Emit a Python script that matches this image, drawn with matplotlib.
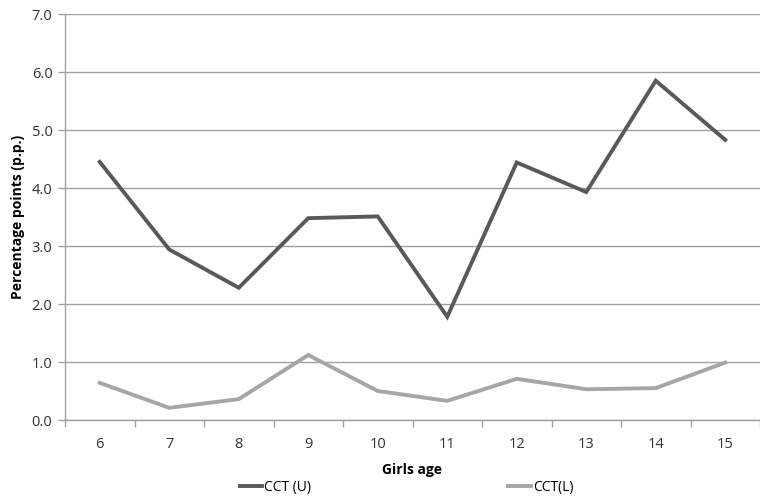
import matplotlib
matplotlib.use("Agg")
import matplotlib.pyplot as plt
from matplotlib.ticker import FormatStrFormatter

ages = [6, 7, 8, 9, 10, 11, 12, 13, 14, 15]
cct_u = [4.45, 2.94, 2.28, 3.48, 3.51, 1.78, 4.44, 3.93, 5.85, 4.83]
cct_l = [0.64, 0.21, 0.36, 1.12, 0.50, 0.33, 0.71, 0.53, 0.55, 0.99]
series_names = ["CCT (U)", "CCT(L)"]

plt.rcParams['font.family'] = ['Open Sans', 'DejaVu Sans']

fig = plt.figure(figsize=(7.6, 5.04), dpi=100)
ax = fig.add_axes([65/760, 84/504, 1 - 65/760, (420-14)/504])

x = list(range(len(ages)))
ax.plot(x, cct_u, color='#595959', lw=2.8, label=series_names[0], solid_joinstyle='miter')
ax.plot(x, cct_l, color='#a6a6a6', lw=2.8, label=series_names[1], solid_joinstyle='miter')

ax.set_ylim(0, 7)
ax.set_yticks([i for i in range(8)])
ax.yaxis.set_major_formatter(FormatStrFormatter('%.1f'))
ax.set_xlim(-0.5, 9.5 - 8/70.3)
ax.set_xticks(x)
ax.set_xticklabels([str(a) for a in ages])
ax.set_xticks([i - 0.5 for i in range(11)], minor=True)
ax.tick_params(axis='x', which='major', length=0, pad=12, labelsize=10.5, colors='#333333')
ax.tick_params(axis='x', which='minor', length=5, color='#a0a0a0', width=1)
ax.tick_params(axis='y', which='major', length=5, color='#a0a0a0', width=1, labelsize=10.5, pad=4)
ax.tick_params(axis='y', colors='#a0a0a0', labelcolor='#333333')

ax.grid(axis='y', color='#a0a0a0', lw=1)
ax.set_axisbelow(True)
for s in ['top', 'right']:
    ax.spines[s].set_visible(False)
for s in ['left', 'bottom']:
    ax.spines[s].set_color('#a0a0a0')
    ax.spines[s].set_linewidth(1)

ax.set_ylabel("Percentage points (p.p.)", fontweight='bold', fontsize=10, labelpad=5)
ax.set_xlabel("Girls age", fontweight='bold', fontsize=10, labelpad=8)

leg = fig.legend(loc='center', bbox_to_anchor=(0.535, (504-487)/504), ncol=2,
                 frameon=False, fontsize=10, handlelength=1.6, handletextpad=0.15,
                 columnspacing=14.2)

fig.savefig("out.png", dpi=100)
